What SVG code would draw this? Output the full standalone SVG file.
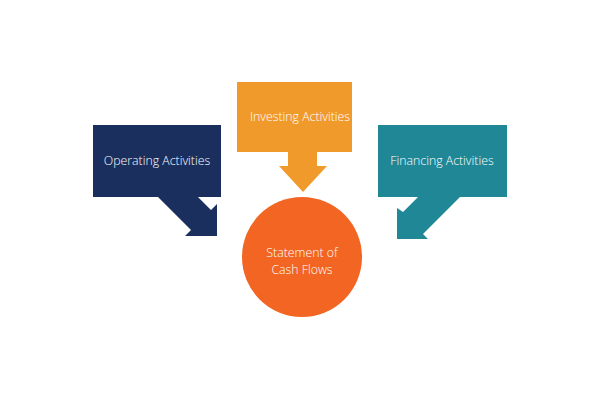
<svg xmlns="http://www.w3.org/2000/svg" width="601" height="400" viewBox="0 0 601 400">
<style>
.lbl{font-family:"Open Sans","Noto Sans","DejaVu Sans",sans-serif;font-size:12.3px;fill:#ffffff;text-anchor:middle;font-weight:300}
</style>
<rect width="601" height="400" fill="#ffffff"/>
<g id="connectors"></g>
<g id="operating">
<polygon points="93,125 221,125 221,197 198,197 211,210 217,204 217,236 185,236 191,230 158,197 93,197" fill="#1b2f5e"/>
<text class="lbl" x="157" y="165">Operating Activities</text>
</g>
<g id="investing">
<polygon points="237,82 352,82 352,152 317,152 317,166 327,166 303,192 279,166 288,166 288,152 237,152" fill="#f19a2c"/>
<text class="lbl" x="300" y="121">Investing Activities</text>
</g>
<g id="financing">
<polygon points="378,125 507,125 507,197 460,197 423,234 428,239 397,239 397,208 403,212 418,197 378,197" fill="#1f8796"/>
<text class="lbl" x="442" y="165">Financing Activities</text>
</g>
<g id="statement">
<circle cx="302" cy="257" r="60" fill="#f26522"/>
<text class="lbl" x="302" y="257">Statement of</text>
<text class="lbl" x="302" y="274">Cash Flows</text>
</g>
</svg>
